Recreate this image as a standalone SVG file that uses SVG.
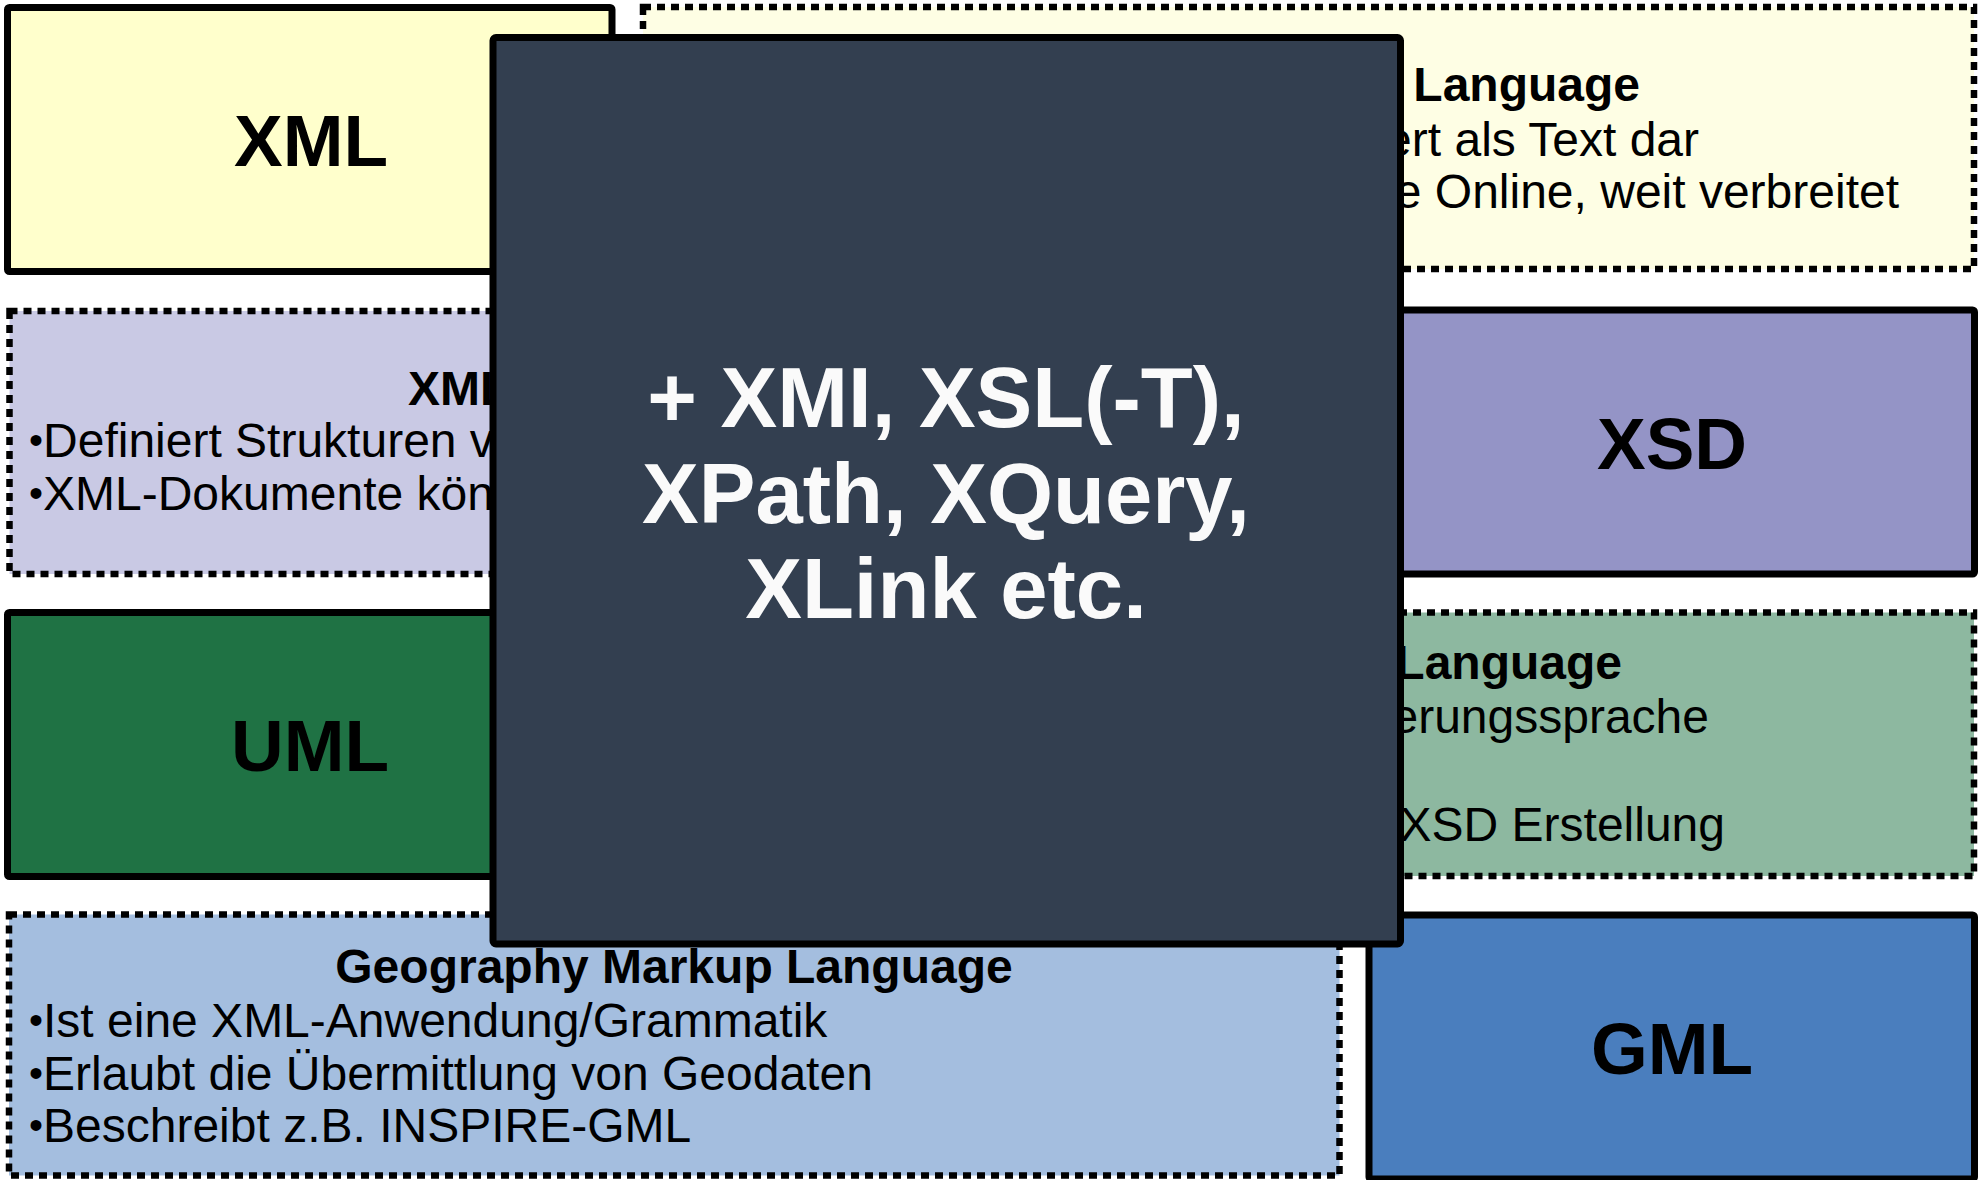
<svg xmlns="http://www.w3.org/2000/svg" width="1986" height="1180" viewBox="0 0 1986 1180">
<style>
  .solid { stroke: #000; stroke-width: 7; }
  .dash { stroke: #000; stroke-width: 6.5; stroke-dasharray: 8 6; }
  .big { font-family: "Liberation Sans", Arial, sans-serif; font-weight: bold; font-size: 73px; fill: #000; text-anchor: middle; }
  .ttl { font-family: "Liberation Sans", Arial, sans-serif; font-weight: bold; font-size: 48px; fill: #000; }
  .txt { font-family: "Liberation Sans", Arial, sans-serif; font-size: 48px; fill: #000; }
  .bul { font-size: 40px; }
  .dark { font-family: "Liberation Sans", Arial, sans-serif; font-weight: bold; font-size: 85px; fill: #FAFAFA; text-anchor: middle; }
</style>
<rect width="1986" height="1180" fill="#FFFFFF"/>
<g id="xml">
  <rect class="solid" x="7.5" y="7.5" width="604.5" height="264" rx="2" fill="#FFFFCC"/>
  <text class="big" x="311" y="166">XML</text>
</g>
<g id="xml-desc">
  <rect class="dash" x="643" y="7" width="1331" height="262" fill="#FEFEE4"/>
  <text class="ttl" x="1640" y="101" text-anchor="end">Language</text>
  <text class="txt" x="1699" y="156" text-anchor="end">ert als Text dar</text>
  <text class="txt" x="1899" y="208" text-anchor="end">e Online, weit verbreitet</text>
</g>
<g id="xsd-desc">
  <rect class="dash" x="9.5" y="311" width="1330" height="263" fill="#C9C9E4"/>
  <text class="ttl" x="408" y="405">XML</text>
  <text class="txt" x="29" y="457"><tspan class="bul" dy="-3">•</tspan><tspan dy="3">Definiert Strukturen v</tspan></text>
  <text class="txt" x="29" y="510"><tspan class="bul" dy="-3">•</tspan><tspan dy="3">XML-Dokumente kön</tspan></text>
</g>
<g id="xsd">
  <rect class="solid" x="1369" y="310" width="605.5" height="264" rx="2" fill="#9494C6"/>
  <text class="big" x="1672" y="468.5">XSD</text>
</g>
<g id="uml">
  <rect class="solid" x="7.5" y="612.5" width="604.5" height="264" rx="2" fill="#1F7244"/>
  <text class="big" x="310" y="771">UML</text>
</g>
<g id="uml-desc">
  <rect class="dash" x="643" y="612.5" width="1331" height="263.5" fill="#8DB8A0"/>
  <text class="ttl" x="1622" y="679" text-anchor="end">Language</text>
  <text class="txt" x="1709" y="733" text-anchor="end">erungssprache</text>
  <text class="txt" x="1725" y="841" text-anchor="end">XSD Erstellung</text>
</g>
<g id="gml-desc">
  <rect class="dash" x="9" y="914.5" width="1330.5" height="261" fill="#A4BEDF"/>
  <text class="ttl" x="674" y="983" text-anchor="middle">Geography Markup Language</text>
  <text class="txt" x="29" y="1037"><tspan class="bul" dy="-3">•</tspan><tspan dy="3">Ist eine XML-Anwendung/Grammatik</tspan></text>
  <text class="txt" x="29" y="1090"><tspan class="bul" dy="-3">•</tspan><tspan dy="3">Erlaubt die Übermittlung von Geodaten</tspan></text>
  <text class="txt" x="29" y="1142"><tspan class="bul" dy="-3">•</tspan><tspan dy="3">Beschreibt z.B. INSPIRE-GML</tspan></text>
</g>
<g id="gml">
  <rect class="solid" x="1369" y="915" width="605.5" height="264" rx="2" fill="#4A7EBE"/>
  <text class="big" x="1672" y="1073.5">GML</text>
</g>
<g id="connectors"></g>
<g id="extras">
  <rect class="solid" x="493" y="37.5" width="907.5" height="906.5" rx="3" fill="#333F50"/>
  <text class="dark" x="946" y="427">+ XMI, XSL(-T),</text>
  <text class="dark" x="946" y="523">XPath, XQuery,</text>
  <text class="dark" x="946" y="618">XLink etc.</text>
</g>
</svg>
